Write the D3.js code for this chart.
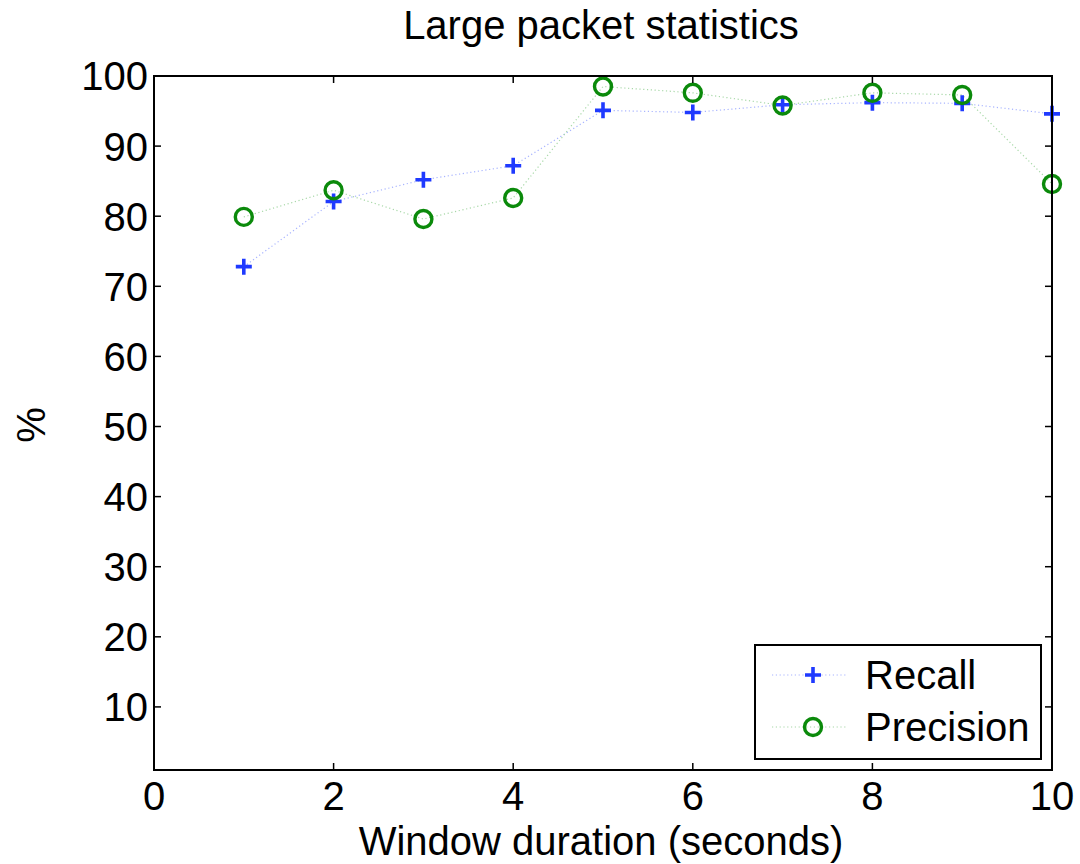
<!DOCTYPE html>
<html>
<head>
<meta charset="utf-8">
<script src="https://cdn.jsdelivr.net/npm/d3@7"></script>
<style>
  body { margin: 0; background: #fff; }
  text { font-family: "Liberation Sans", Arial, sans-serif; fill: #000; }
</style>
</head>
<body>
<script>
var windows = [1, 2, 3, 4, 5, 6, 7, 8, 9, 10],
	recall = [72.8, 82.1, 85.2, 87.2, 95.1, 94.8, 95.9, 96.2, 96.1, 94.6],
	precision = [79.9, 83.7, 79.6, 82.6, 98.5, 97.6, 95.8, 97.6, 97.3, 84.6];

var xTicks = [0, 2, 4, 6, 8, 10],
	yTicks = [10, 20, 30, 40, 50, 60, 70, 80, 90, 100];

var margin = {top: 76, right: 28, bottom: 94, left: 154},
	width = 1080 - margin.left - margin.right,
	height = 864 - margin.top - margin.bottom;

var fs = 40;

var x = d3.scaleLinear().domain([0, 10]).range([0, width]);
var y = d3.scaleLinear().domain([1, 100]).range([height, 0]);

var svg = d3.select('body').append('svg')
	.attr('width', 1080)
	.attr('height', 864);

var main = svg.append('g')
	.attr('transform', 'translate(' + margin.left + ',' + margin.top + ')');

// dotted connecting lines
var line = function(vals) {
	return d3.line()
		.x(function(d, i) { return x(windows[i]); })
		.y(function(d) { return y(d); })(vals);
};

main.append('path')
	.attr('d', line(recall))
	.attr('fill', 'none')
	.attr('stroke', '#a8b4ff')
	.attr('stroke-width', 1.2)
	.attr('stroke-dasharray', '1.2,2.6');

main.append('path')
	.attr('d', line(precision))
	.attr('fill', 'none')
	.attr('stroke', '#a8d8a8')
	.attr('stroke-width', 1.2)
	.attr('stroke-dasharray', '1.2,2.6');

// markers
function plus(g, cx, cy) {
	g.append('path')
		.attr('d', 'M' + (cx - 8) + ',' + cy + 'H' + (cx + 8) + 'M' + cx + ',' + (cy - 8) + 'V' + (cy + 8))
		.attr('stroke', '#1f3aff')
		.attr('stroke-width', 3.6)
		.attr('fill', 'none');
}
function ring(g, cx, cy) {
	g.append('circle')
		.attr('cx', cx).attr('cy', cy).attr('r', 8.5)
		.attr('fill', 'none')
		.attr('stroke', '#0b8a0b')
		.attr('stroke-width', 3.4);
}

recall.forEach(function(d, i) { plus(main, x(windows[i]), y(d)); });
precision.forEach(function(d, i) { ring(main, x(windows[i]), y(d)); });

// inward ticks on all sides
var tl = 7;
xTicks.forEach(function(t) {
	main.append('line').attr('x1', x(t)).attr('x2', x(t)).attr('y1', height).attr('y2', height - tl).attr('stroke', '#000').attr('stroke-width', 1.5);
	main.append('line').attr('x1', x(t)).attr('x2', x(t)).attr('y1', 0).attr('y2', tl).attr('stroke', '#000').attr('stroke-width', 1.5);
	main.append('text').attr('x', x(t)).attr('y', height + 40)
		.attr('text-anchor', 'middle').attr('font-size', fs).text(t);
});
yTicks.forEach(function(t) {
	main.append('line').attr('x1', 0).attr('x2', tl).attr('y1', y(t)).attr('y2', y(t)).attr('stroke', '#000').attr('stroke-width', 1.5);
	main.append('line').attr('x1', width).attr('x2', width - tl).attr('y1', y(t)).attr('y2', y(t)).attr('stroke', '#000').attr('stroke-width', 1.5);
	main.append('text').attr('x', -6).attr('y', y(t)).attr('dy', '0.36em')
		.attr('text-anchor', 'end').attr('font-size', fs).text(t);
});

// frame
main.append('rect')
	.attr('width', width).attr('height', height)
	.attr('fill', 'none').attr('stroke', '#000').attr('stroke-width', 2);

// titles
svg.append('text').attr('x', 601).attr('y', 39)
	.attr('text-anchor', 'middle').attr('font-size', fs).text('Large packet statistics');
svg.append('text').attr('x', 601).attr('y', 855)
	.attr('text-anchor', 'middle').attr('font-size', fs).text('Window duration (seconds)');
svg.append('text').attr('transform', 'translate(45,425) rotate(-90)')
	.attr('text-anchor', 'middle').attr('font-size', fs).text('%');

// legend
var leg = svg.append('g').attr('transform', 'translate(755,645)');
leg.append('rect').attr('width', 286).attr('height', 114)
	.attr('fill', '#fff').attr('stroke', '#000').attr('stroke-width', 2);

var items = [
	{name: 'Recall', color: '#a8b4ff', y: 30, mark: plus},
	{name: 'Precision', color: '#a8d8a8', y: 82, mark: ring}
];
items.forEach(function(it) {
	leg.append('line').attr('x1', 17).attr('x2', 93).attr('y1', it.y).attr('y2', it.y)
		.attr('stroke', it.color).attr('stroke-width', 1.2).attr('stroke-dasharray', '1.2,2.6');
	it.mark(leg, 58, it.y);
	leg.append('text').attr('x', 110).attr('y', it.y).attr('dy', '0.36em')
		.attr('font-size', fs).text(it.name);
});
</script>
</body>
</html>
